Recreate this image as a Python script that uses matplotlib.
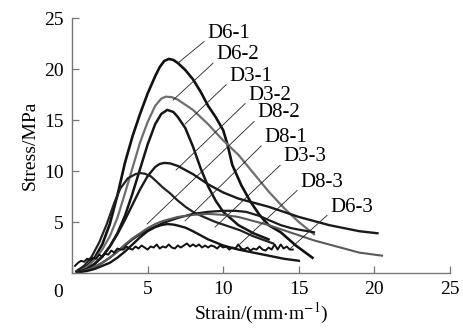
import numpy as np
import matplotlib
matplotlib.use("Agg")
import matplotlib.pyplot as plt

plt.rcParams["font.family"] = ["Liberation Serif", "DejaVu Serif"]
plt.rcParams["mathtext.fontset"] = "stix"

# --- curves (strain, stress) ---
d61_x = [0.5, 1, 1.5, 2, 2.5, 3, 3.5, 4, 4.5, 5, 5.5, 5.8, 6.1, 6.4, 6.7, 7, 7.5, 8, 8.5, 9,
         9.5, 10, 10.3, 10.6, 11.2, 11.8, 12.4, 13, 13.8, 14.8, 15.9]
d61_y = [0.2, 0.7, 1.5, 2.8, 4.8, 7.6, 10.8, 13.4, 15.6, 17.6, 19.3, 20.2, 20.8, 21.0, 20.9,
         20.6, 19.9, 19.0, 17.8, 16.4, 15.3, 14.0, 12.5, 10.6, 8.6, 7.0, 5.7, 4.7, 4.0, 2.7, 1.5]

d62_x = [0.3, 1, 1.5, 2, 2.5, 3, 3.5, 4, 4.5, 5, 5.5, 5.9, 6.2, 6.6, 7, 8, 9, 10, 11, 12, 13,
         14, 15, 16]
d62_y = [0.1, 0.6, 1.3, 2.3, 3.6, 5.4, 7.8, 10.3, 12.8, 14.8, 16.4, 17.1, 17.3, 17.25, 17.0,
         16.0, 14.6, 13.0, 11.6, 9.8, 8.0, 6.4, 5.0, 3.8]

d31_x = [0.5, 1, 1.5, 2, 2.5, 3, 3.5, 4, 4.5, 5, 5.5, 5.9, 6.3, 6.7, 7, 7.5, 8, 8.5, 9, 9.5,
         10, 11, 12, 13]
d31_y = [0.1, 0.4, 0.9, 1.6, 2.6, 3.9, 5.6, 7.8, 10.2, 12.6, 14.6, 15.6, 16.0, 15.8, 15.3,
         14.2, 12.4, 10.3, 8.5, 7.1, 6.0, 4.7, 3.9, 3.3]

d32_x = [0.3, 1, 1.5, 2, 2.5, 3, 3.5, 4, 4.5, 5, 5.5, 5.8, 6.1, 6.5, 7, 8, 9, 10, 11, 12, 13,
         14, 15, 16, 17, 18, 19, 20.2]
d32_y = [0.1, 0.4, 0.9, 1.6, 2.6, 3.8, 5.2, 6.7, 8.2, 9.5, 10.4, 10.7, 10.8, 10.75, 10.5, 9.7,
         8.7, 7.9, 7.3, 6.9, 6.5, 6.0, 5.5, 5.1, 4.7, 4.4, 4.1, 3.9]

d82_x = [0.3, 0.8, 1.3, 1.8, 2.3, 2.8, 3.2, 3.7, 4.2, 4.5, 4.8, 5.2, 5.5, 6, 6.5, 7, 7.5, 8,
         8.7, 9.5, 10.3, 11.1, 12, 13.3]
d82_y = [0.2, 0.7, 1.6, 3.0, 4.8, 6.9, 8.3, 9.3, 9.7, 9.8, 9.75, 9.5, 9.1, 8.4, 7.8, 7.1, 6.5,
         6.0, 5.5, 5.0, 4.6, 4.2, 3.6, 2.9]

d81_x = [0.5, 1, 1.5, 2, 2.5, 3, 3.5, 4, 4.5, 5, 6, 7, 8, 9, 10, 10.8, 11.5, 12.4, 13, 13.8,
         14.5, 15.2, 16]
d81_y = [0.1, 0.3, 0.6, 1.0, 1.5, 2.1, 2.7, 3.3, 3.8, 4.2, 4.9, 5.4, 5.8, 6.0, 6.1, 6.1, 6.0,
         5.6, 5.2, 4.7, 4.4, 4.2, 4.0]

d33_x = [0.5, 1, 1.5, 2, 2.5, 3, 3.5, 4, 4.5, 5, 5.5, 6, 7, 8, 9, 10, 11, 12, 13, 14, 15, 16,
         17, 18, 19, 20.5]
d33_y = [0.1, 0.3, 0.6, 1.0, 1.5, 2.1, 2.8, 3.4, 3.9, 4.4, 4.8, 5.1, 5.5, 5.7, 5.8, 5.7, 5.5,
         5.1, 4.7, 4.2, 3.7, 3.2, 2.8, 2.4, 2.0, 1.7]

d83_x = [0.5, 1, 1.5, 2, 2.5, 3, 3.5, 4, 4.5, 5, 5.5, 5.9, 6.3, 6.7, 7, 7.5, 8, 8.5, 9, 10, 11,
         12, 13, 14, 15]
d83_y = [0.1, 0.2, 0.4, 0.7, 1.0, 1.5, 2.1, 2.8, 3.5, 4.1, 4.5, 4.7, 4.8, 4.75, 4.65, 4.45,
         4.1, 3.7, 3.3, 2.7, 2.3, 2.0, 1.7, 1.4, 1.2]

# noisy specimen, sampled every 0.2 of strain from 0.2
d63_x = np.round(np.arange(0.2, 14.7, 0.2), 1)
d63_y = [0.7, 1.0, 1.2, 1.1, 1.4, 1.3, 1.5, 1.4, 1.8, 1.6, 1.9, 1.8, 2.2, 2.0, 2.4, 2.3, 2.3,
         2.6, 2.4, 2.3, 2.6, 2.4, 2.7, 2.5, 2.3, 2.6, 2.5, 2.8, 2.4, 2.6, 2.5, 2.8, 2.5, 2.4,
         2.7, 2.5, 2.7, 2.9, 2.6, 2.8, 2.6, 2.8, 2.5, 2.7, 2.5, 2.7, 2.6, 2.4, 2.7, 2.5, 2.6,
         2.3, 2.5, 2.4, 2.8, 2.4, 2.3, 2.5, 2.2, 2.4, 2.3, 2.6, 2.3, 2.2, 2.5, 2.3, 2.8, 2.3,
         2.8, 2.4, 2.6, 2.3, 2.3]

names = ["D6-1", "D6-2", "D3-1", "D3-2", "D8-2", "D8-1", "D3-3", "D8-3", "D6-3"]
xs = [d61_x, d62_x, d31_x, d32_x, d82_x, d81_x, d33_x, d83_x, d63_x]
ys = [d61_y, d62_y, d31_y, d32_y, d82_y, d81_y, d33_y, d83_y, d63_y]
colors = ["#111111", "#6e6e6e", "#151515", "#1a1a1a", "#222222", "#1a1a1a", "#5a5a5a",
          "#151515", "#111111"]
widths = [1.9, 1.6, 1.8, 1.7, 1.6, 1.6, 1.5, 1.7, 1.4]

# label text position and where its leader meets the curve
label_x = [8.93, 9.52, 10.38, 11.64, 12.24, 12.70, 13.96, 15.08, 17.06]
label_y = [23.5, 21.4, 19.3, 17.45, 15.7, 13.3, 11.4, 8.92, 6.47]
tip_x = [7.01, 6.68, 7.47, 6.88, 4.96, 7.47, 9.46, 11.1, 14.4]
tip_y = [20.6, 16.96, 14.6, 10.1, 4.8, 5.1, 4.5, 2.84, 2.35]

fig = plt.figure(figsize=(4.63, 3.30), dpi=100)
ax = fig.add_axes([0.1555, 0.1727, 0.8165, 0.7723])

for x, y, c, w in zip(xs, ys, colors, widths):
    ax.plot(x, y, color=c, lw=w, solid_joinstyle="round")

for n, lx, ly, tx, ty in zip(names, label_x, label_y, tip_x, tip_y):
    ax.annotate(n, xy=(tx, ty), xytext=(lx, ly), fontsize=15, ha="left", va="center",
                arrowprops=dict(arrowstyle="-", lw=0.6, color="#222222",
                                shrinkA=0, shrinkB=0, relpos=(0, 0.2)))

ax.set_xlim(0, 25)
ax.set_ylim(0, 25)
ax.set_xticks([0, 5, 10, 15, 20, 25])
ax.set_xticklabels(["", "5", "10", "15", "20", "25"])
ax.set_yticks([5, 10, 15, 20, 25])
ax.text(-0.037, -0.075, "0", transform=ax.transAxes, fontsize=14, ha="center", va="center")

for s in ["top", "right"]:
    ax.spines[s].set_visible(False)
for s in ["left", "bottom"]:
    ax.spines[s].set_color("#777777")
    ax.spines[s].set_linewidth(1.0)
ax.tick_params(direction="in", length=5, width=0.9, color="#777777", labelsize=14, pad=6)

ax.set_xlabel(r"Strain/(mm$\cdot$m$^{-1}$)", fontsize=14, labelpad=2)
ax.set_ylabel("Stress/MPa", fontsize=14, labelpad=4)

fig.savefig("out.png", dpi=100)
